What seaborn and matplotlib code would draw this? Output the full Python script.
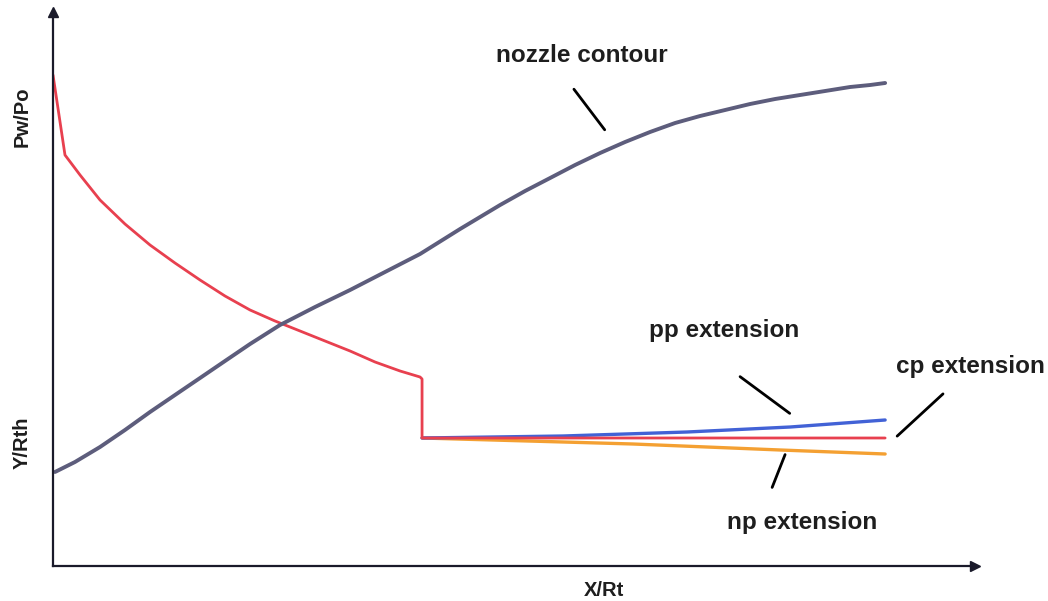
import matplotlib
matplotlib.use("Agg")
import matplotlib.pyplot as plt
import seaborn as sns

# nozzle contour Y/Rth vs X/Rt
contour_x = [0.024, 0.264, 0.565, 0.865, 1.166, 1.466, 1.767, 2.067, 2.368, 2.728, 3.149, 3.570,
             3.990, 4.411, 4.892, 5.373, 5.673, 5.974, 6.274, 6.575, 6.875, 7.175, 7.476, 7.776,
             8.077, 8.377, 8.678, 8.978, 9.279, 9.579, 9.820, 10.0]
contour_y = [0.94, 1.04, 1.19, 1.36, 1.54, 1.71, 1.88, 2.05, 2.22, 2.41, 2.59, 2.76,
             2.94, 3.12, 3.37, 3.61, 3.75, 3.88, 4.01, 4.13, 4.24, 4.34, 4.43, 4.50,
             4.56, 4.62, 4.67, 4.71, 4.75, 4.79, 4.81, 4.83]

# wall pressure Pw/Po, cp extension (constant pressure)
cp_x = [0.0, 0.144, 0.325, 0.565, 0.865, 1.166, 1.466, 1.767, 2.067, 2.368, 2.668, 2.969,
        3.269, 3.570, 3.870, 4.171, 4.411, 4.435, 4.435, 10.0]
cp_y = [4.91, 4.11, 3.91, 3.66, 3.42, 3.21, 3.03, 2.86, 2.70, 2.56, 2.45, 2.35,
        2.25, 2.15, 2.04, 1.95, 1.89, 1.87, 1.28, 1.28]

# positive pressure gradient extension
pp_x = [4.435, 6.13, 7.62, 8.86, 10.0]
pp_y = [1.28, 1.30, 1.34, 1.39, 1.46]

# negative pressure gradient extension
np_x = [4.435, 6.13, 6.97, 8.74, 10.0]
np_y = [1.28, 1.24, 1.22, 1.16, 1.12]

sns.set_style("white")
plt.rcParams['font.family'] = ['Liberation Sans', 'DejaVu Sans']

fig = plt.figure(figsize=(10.48, 6.01), dpi=100)
ax = fig.add_axes([53 / 1048, 35 / 601, 922 / 1048, 554 / 601])

line_kw = dict(sort=False, estimator=None, ax=ax, solid_joinstyle="round", solid_capstyle="round")
sns.lineplot(x=np_x, y=np_y, color="#f4a032", lw=2.4, **line_kw)
sns.lineplot(x=pp_x, y=pp_y, color="#4262d6", lw=2.4, **line_kw)
sns.lineplot(x=cp_x, y=cp_y, color="#e8404f", lw=2.0, **line_kw)
sns.lineplot(x=contour_x, y=contour_y, color="#5d5d7c", lw=2.8, **line_kw)

ax.set_xlim(0, 11.08)
ax.set_ylim(0, 5.54)
ax.set_xticks([])
ax.set_yticks([])
for s in ["top", "right"]:
    ax.spines[s].set_visible(False)
for s in ["left", "bottom"]:
    ax.spines[s].set_color("#1a1a2a")
    ax.spines[s].set_linewidth(1.6)
# arrow heads
ax.plot(1, 0, ">", color="#1a1a2a", ms=7, transform=ax.transAxes, clip_on=False)
ax.plot(0, 1, "^", color="#1a1a2a", ms=7, transform=ax.transAxes, clip_on=False)

# labels with leader lines
lbl = dict(fontsize=17.5, fontweight="bold", color="#1e1e1e", ha="center", va="center")
arrow = dict(arrowstyle="-", color="black", lw=2)
ax.annotate("", xy=(6.65, 4.34), xytext=(6.24, 4.79), arrowprops=arrow)
ax.text(6.36, 5.11, "nozzle contour", **lbl)
ax.annotate("", xy=(8.88, 1.51), xytext=(8.23, 1.91), arrowprops=arrow)
ax.text(8.07, 2.36, "pp extension", **lbl)
ax.annotate("", xy=(10.12, 1.28), xytext=(10.72, 1.74), arrowprops=arrow, annotation_clip=False)
ax.text(11.02, 2.0, "cp extension", clip_on=False, **lbl)
ax.annotate("", xy=(8.63, 0.76), xytext=(8.81, 1.14), arrowprops=arrow)
ax.text(9.0, 0.44, "np extension", **lbl)

axl = dict(fontsize=14.5, fontweight="bold", color="#1e1e1e", ha="center", va="center")
fig.text(22 / 1048, 1 - 117 / 601, "Pw/Po", rotation=90, **axl)
fig.text(22 / 1048, 1 - 443 / 601, "Y/Rth", rotation=90, **axl)
fig.text(604 / 1048, 1 - 590 / 601, "X/Rt", **axl)

fig.savefig("out.png", dpi=100)
